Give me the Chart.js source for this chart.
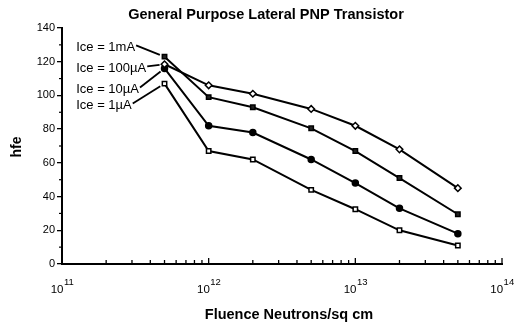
<!DOCTYPE html>
<html>
<head>
<meta charset="utf-8">
<script src="https://cdn.jsdelivr.net/npm/chart.js@4/dist/chart.umd.min.js"></script>
<style>
  html, body { margin: 0; padding: 0; background: #fff; }
  #c { display: block; }
</style>
</head>
<body>
<canvas id="c" width="527" height="326"></canvas>
<script>
// Fluence (neutrons / sq cm) at which hfe was measured
const fluence = [5e11, 1e12, 2e12, 5e12, 1e13, 2e13, 5e13];

// hfe for each collector current
const hfe1mA   = [123, 99, 93, 80.5, 67, 51, 29.5];
const hfe100uA = [118.5, 106, 101, 92, 82, 68, 45];
const hfe10uA  = [116, 82, 78, 62, 48, 33, 18];
const hfe1uA   = [107, 67, 62, 44, 32.5, 20, 11];

const seriesLabels = ['Ice = 1mA', 'Ice = 100µA', 'Ice = 10µA', 'Ice = 1µA'];

// Axis ticks
const yTickValues = [0, 20, 40, 60, 80, 100, 120, 140];
const yMinorValues = [10, 30, 50, 70, 90, 110, 130];
const decadeExponents = [11, 12, 13, 14];

const FONT = '"Liberation Sans", Arial, Helvetica, sans-serif';

// Where each series name sits (data units), with a leader line to the first point
const labelAnchors = [
  { x: 1.25e11, y: 128.5 },
  { x: 1.25e11, y: 116.0 },
  { x: 1.25e11, y: 103.5 },
  { x: 1.25e11, y: 94.0 }
];

const seriesValues = [hfe1mA, hfe100uA, hfe10uA, hfe1uA];
const markerStyles = [
  { pointStyle: 'rect',    bg: '#222', radius: 3.1 },
  { pointStyle: 'rectRot', bg: '#fff', radius: 3.3 },
  { pointStyle: 'circle',  bg: '#000', radius: 3.0 },
  { pointStyle: 'rect',    bg: '#fff', radius: 3.1 }
];

const datasets = seriesValues.map((vals, i) => ({
  label: seriesLabels[i],
  data: fluence.map((f, j) => ({ x: f, y: vals[j] })),
  borderColor: '#000',
  borderWidth: 2,
  tension: 0,
  fill: false,
  pointStyle: markerStyles[i].pointStyle,
  pointRadius: markerStyles[i].radius,
  pointBackgroundColor: markerStyles[i].bg,
  pointBorderColor: '#000',
  pointBorderWidth: 1.5
}));

// Titles, log-axis ticks with superscript exponents, minor ticks and series call-outs
const decorations = {
  id: 'decorations',
  afterDraw(chart) {
    const ctx = chart.ctx;
    const xs = chart.scales.x, ys = chart.scales.y;
    const area = chart.chartArea;
    ctx.save();
    ctx.fillStyle = '#000';
    ctx.strokeStyle = '#000';

    // chart title
    ctx.font = 'bold 14.5px ' + FONT;
    ctx.textAlign = 'center';
    ctx.textBaseline = 'middle';
    ctx.fillText('General Purpose Lateral PNP Transistor', 266, 15);

    // x axis title
    ctx.fillText('Fluence Neutrons/sq cm', 289, 315);

    // y axis title
    ctx.font = 'bold 14px ' + FONT;
    ctx.save();
    ctx.translate(17, 147);
    ctx.rotate(-Math.PI / 2);
    ctx.fillText('hfe', 0, 0);
    ctx.restore();

    // y minor ticks
    ctx.lineWidth = 1.2;
    yMinorValues.forEach(v => {
      const py = ys.getPixelForValue(v);
      ctx.beginPath();
      ctx.moveTo(area.left - 3, py);
      ctx.lineTo(area.left, py);
      ctx.stroke();
    });

    // x ticks pointing into the plot
    ctx.lineWidth = 1.3;
    for (let e = decadeExponents[0]; e < decadeExponents[decadeExponents.length - 1]; e++) {
      for (let k = 1; k <= 9; k++) {
        const px = xs.getPixelForValue(k * Math.pow(10, e));
        const len = k === 1 ? 6 : 4;
        ctx.beginPath();
        ctx.moveTo(px, area.bottom);
        ctx.lineTo(px, area.bottom - len);
        ctx.stroke();
      }
    }
    const lastPx = xs.getPixelForValue(Math.pow(10, decadeExponents[decadeExponents.length - 1]));
    ctx.beginPath();
    ctx.moveTo(lastPx, area.bottom);
    ctx.lineTo(lastPx, area.bottom - 6);
    ctx.stroke();

    // x tick labels 10^n
    decadeExponents.forEach(e => {
      const px = xs.getPixelForValue(Math.pow(10, e));
      ctx.font = '11.5px ' + FONT;
      const baseW = ctx.measureText('10').width;
      ctx.font = '9.5px ' + FONT;
      const supW = ctx.measureText(String(e)).width;
      const left = px - (baseW + supW) / 2;
      ctx.textAlign = 'left';
      ctx.textBaseline = 'alphabetic';
      ctx.font = '11.5px ' + FONT;
      ctx.fillText('10', left, 293);
      ctx.font = '9.5px ' + FONT;
      ctx.fillText(String(e), left + baseW + 0.5, 285);
    });

    // series call-outs with leader lines to the first point
    ctx.font = '13px ' + FONT;
    ctx.textAlign = 'left';
    ctx.textBaseline = 'middle';
    ctx.lineWidth = 1.8;
    labelAnchors.forEach((a, i) => {
      const tx = xs.getPixelForValue(a.x);
      const ty = ys.getPixelForValue(a.y);
      ctx.fillText(seriesLabels[i], tx, ty);
      const w = ctx.measureText(seriesLabels[i]).width;
      const sx = tx + w + 1, sy = ty - 2;
      const mx = xs.getPixelForValue(fluence[0]);
      const my = ys.getPixelForValue(seriesValues[i][0]);
      const dx = mx - sx, dy = my - sy;
      const d = Math.hypot(dx, dy);
      const ex = mx - dx / d * 5, ey = my - dy / d * 5;
      ctx.beginPath();
      ctx.moveTo(sx, sy);
      ctx.lineTo(ex, ey);
      ctx.stroke();
    });
    ctx.restore();
  }
};

new Chart(document.getElementById('c'), {
  type: 'line',
  data: { datasets },
  options: {
    responsive: false,
    devicePixelRatio: 1,
    animation: false,
    layout: { padding: { top: 28, right: 25, left: 0, bottom: 0 } },
    plugins: { legend: { display: false }, tooltip: { enabled: false } },
    scales: {
      x: {
        type: 'logarithmic',
        min: 1e11,
        max: 1e14,
        grid: { display: false },
        ticks: { display: false },
        border: { display: true, color: '#000', width: 2 },
        afterFit(scale) { scale.height = 62; }
      },
      y: {
        min: 0,
        max: 140,
        afterBuildTicks(scale) { scale.ticks = yTickValues.map(v => ({ value: v })); },
        ticks: {
          color: '#000',
          font: { family: FONT, size: 11 },
          padding: 2
        },
        grid: {
          display: true,
          drawOnChartArea: false,
          drawTicks: true,
          tickLength: 5,
          color: '#000',
          lineWidth: 1.3
        },
        border: { display: true, color: '#000', width: 2 },
        afterFit(scale) { scale.width = 62; }
      }
    }
  },
  plugins: [decorations]
});
</script>
</body>
</html>
